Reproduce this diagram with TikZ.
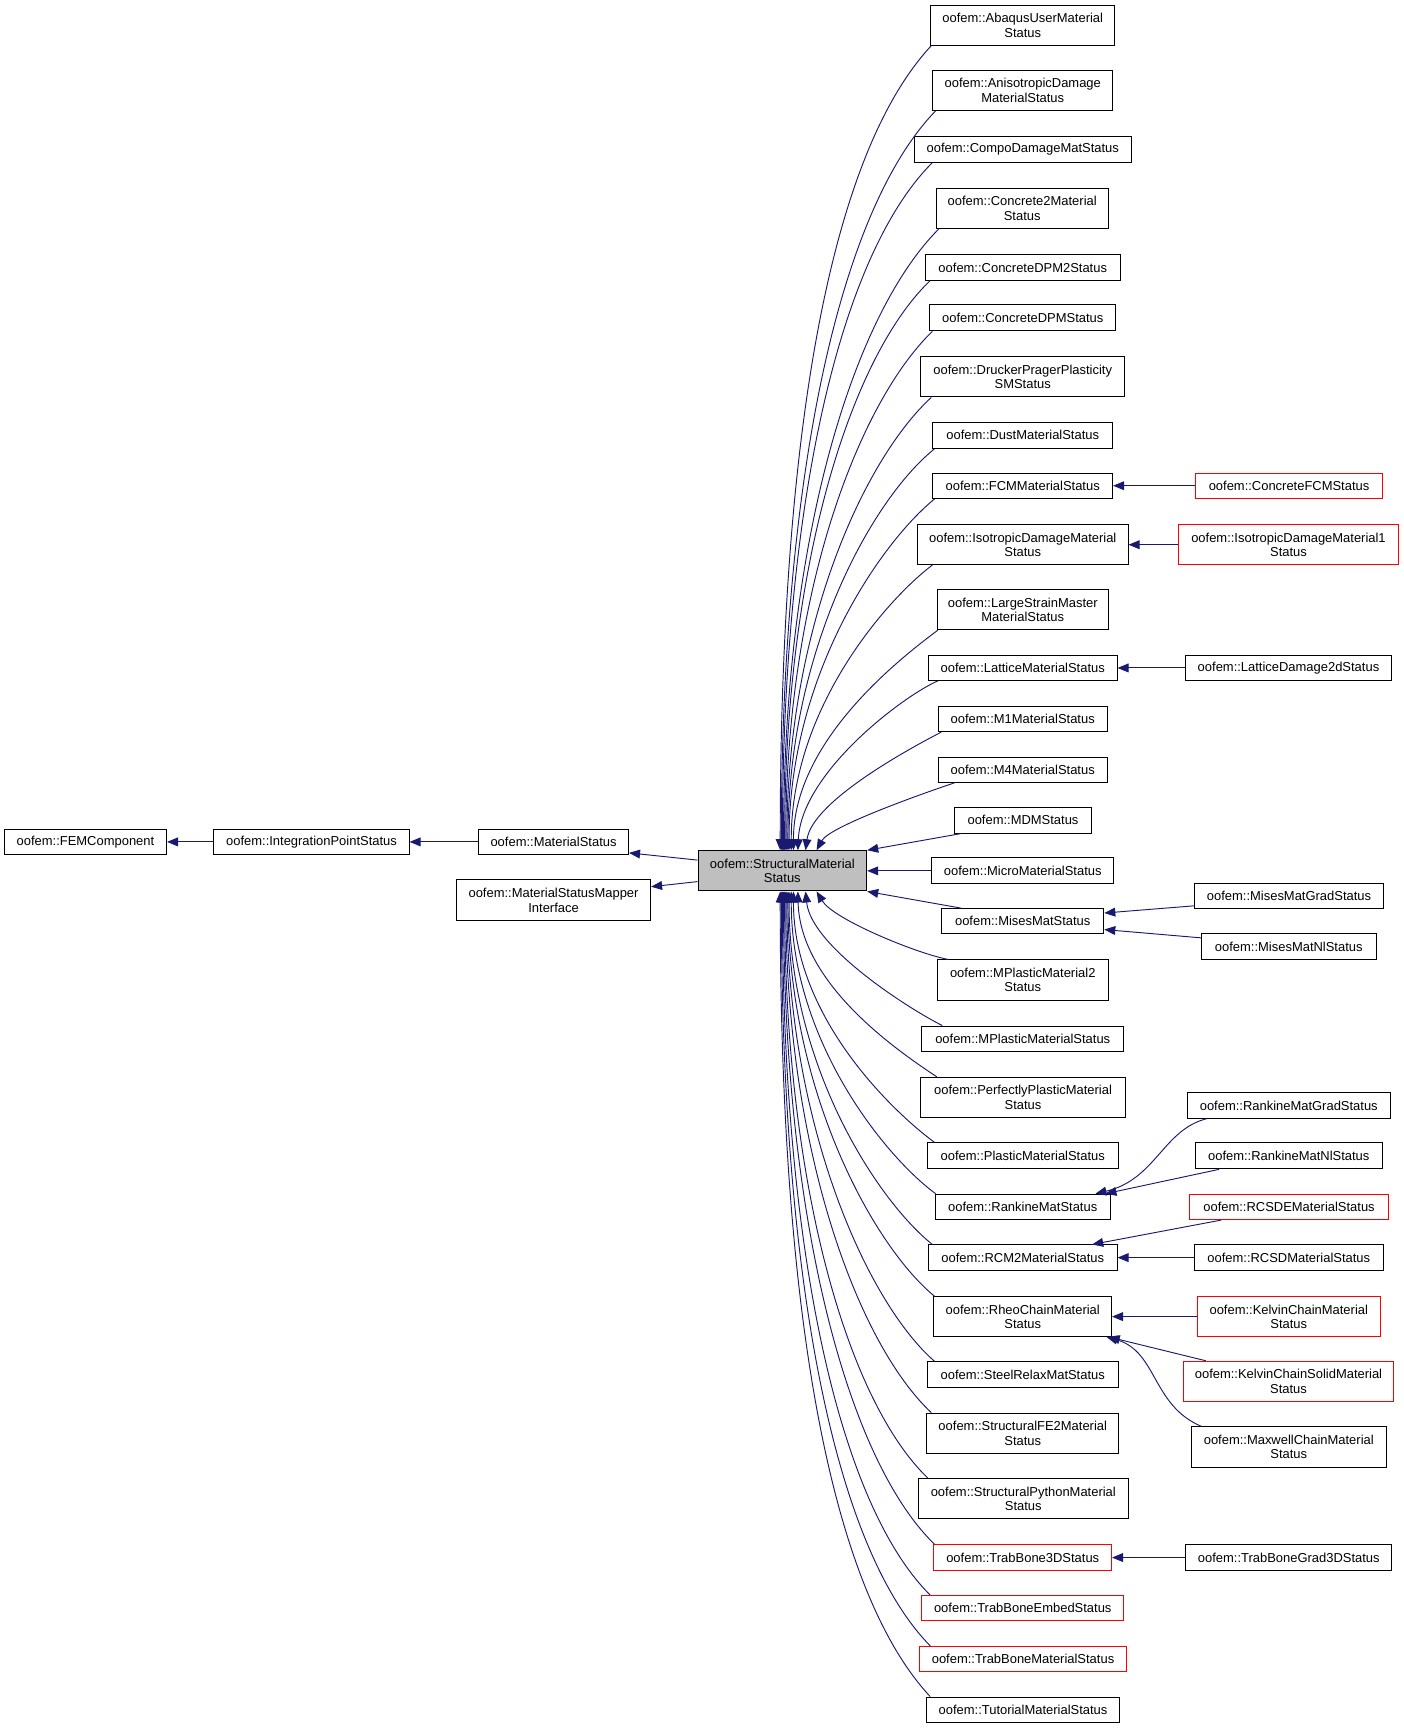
\documentclass[tikz,border=0pt]{standalone}
\usepackage{fontspec}
\setmainfont{Liberation Sans}
\usetikzlibrary{arrows.meta}
\definecolor{edgeblue}{RGB}{25,25,112}
\definecolor{nodegray}{RGB}{191,191,191}
\tikzset{
  box/.style={draw=black, line width=0.9pt, inner sep=0pt, align=center,
    font=\fontsize{11.75pt}{13pt}\selectfont, fill=white},
  redbox/.style={box, draw=red},
  edge/.style={draw=edgeblue, line width=0.85pt, -{Triangle[length=10pt,width=8pt]}},
}
\newcommand\bx[7][]{\node[box,#1,minimum width={(#5-#3)*1pt},minimum height={(#6-#4)*1pt}] (#2) at ({(#3+#5)/2},{(#4+#6)/2}) {#7};}
\begin{document}
\begin{tikzpicture}[x=1pt,y=-1pt]
\useasboundingbox[fill=white] (0,0) rectangle (1273,1568);
% left part
\bx{fem}{4}{752}{151}{775}{oofem::FEMComponent}
\bx{ips}{194}{752}{371}{775}{oofem::IntegrationPointStatus}
\bx{ms}{434}{752}{570}{775}{oofem::MaterialStatus}
\bx{mapper}{414}{798}{590}{835}{oofem::MaterialStatusMapper\\Interface}
\bx[fill=nodegray]{S}{633}{771.5}{786}{808}{oofem::StructuralMaterial\\Status}
% middle column
\bx{abaqus}{844}{5}{1011}{41}{oofem::AbaqusUserMaterial\\Status}
\bx{aniso}{846}{64}{1009}{100}{oofem::AnisotropicDamage\\MaterialStatus}
\bx{compo}{829}{124}{1026}{147}{oofem::CompoDamageMatStatus}
\bx{conc2}{849}{171}{1005}{207}{oofem::Concrete2Material\\Status}
\bx{dpm2}{839}{231}{1016}{254}{oofem::ConcreteDPM2Status}
\bx{dpm}{843}{276}{1012}{300}{oofem::ConcreteDPMStatus}
\bx{drucker}{835}{323}{1020}{360}{oofem::DruckerPragerPlasticity\\SMStatus}
\bx{dust}{846}{383}{1009}{406.5}{oofem::DustMaterialStatus}
\bx{fcm}{846}{429}{1009}{452}{oofem::FCMMaterialStatus}
\bx{iso}{832}{476}{1023}{512}{oofem::IsotropicDamageMaterial\\Status}
\bx{large}{850}{535}{1005}{571}{oofem::LargeStrainMaster\\MaterialStatus}
\bx{lattice}{842}{594.5}{1013}{617}{oofem::LatticeMaterialStatus}
\bx{mone}{851}{641}{1004}{663.5}{oofem::M1MaterialStatus}
\bx{mfour}{851}{687}{1004}{709.5}{oofem::M4MaterialStatus}
\bx{mdm}{866}{732}{989.5}{755.5}{oofem::MDMStatus}
\bx{micro}{845}{778}{1010}{801.5}{oofem::MicroMaterialStatus}
\bx{mises}{854}{824}{1001}{847}{oofem::MisesMatStatus}
\bx{mplastictwo}{850}{870.5}{1005}{907}{oofem::MPlasticMaterial2\\Status}
\bx{mplastic}{836}{930.5}{1019}{953.5}{oofem::MPlasticMaterialStatus}
\bx{perfect}{835}{977}{1020.5}{1013.5}{oofem::PerfectlyPlasticMaterial\\Status}
\bx{plastic}{841}{1036.5}{1014}{1060}{oofem::PlasticMaterialStatus}
\bx{rankine}{848}{1083}{1007}{1106}{oofem::RankineMatStatus}
\bx{rcm}{842}{1129}{1013}{1152}{oofem::RCM2MaterialStatus}
\bx{rheo}{847}{1176}{1008}{1212}{oofem::RheoChainMaterial\\Status}
\bx{steel}{841}{1235}{1014}{1258}{oofem::SteelRelaxMatStatus}
\bx{fetwo}{840.5}{1281.5}{1014.5}{1318}{oofem::StructuralFE2Material\\Status}
\bx{python}{833}{1341}{1023}{1377.5}{oofem::StructuralPythonMaterial\\Status}
\bx[redbox]{tbthree}{847}{1401}{1008}{1424}{oofem::TrabBone3DStatus}
\bx[redbox]{embed}{836}{1447}{1019}{1470}{oofem::TrabBoneEmbedStatus}
\bx[redbox]{tbmat}{834}{1493}{1021.5}{1516}{oofem::TrabBoneMaterialStatus}
\bx{tutorial}{840}{1539}{1015.5}{1562}{oofem::TutorialMaterialStatus}
% right column
\bx[redbox]{cfcm}{1084}{429}{1254}{452}{oofem::ConcreteFCMStatus}
\bx[redbox]{isoone}{1069}{476}{1268}{512}{oofem::IsotropicDamageMaterial1\\Status}
\bx{ldam}{1075}{594.5}{1262}{617}{oofem::LatticeDamage2dStatus}
\bx{misesgrad}{1083}{801}{1255}{824}{oofem::MisesMatGradStatus}
\bx{misesnl}{1089.5}{847}{1248}{870}{oofem::MisesMatNlStatus}
\bx{rankgrad}{1076.5}{991}{1261}{1014}{oofem::RankineMatGradStatus}
\bx{ranknl}{1084}{1036.5}{1253.5}{1060}{oofem::RankineMatNlStatus}
\bx[redbox]{rcsde}{1079}{1083}{1259}{1106}{oofem::RCSDEMaterialStatus}
\bx{rcsd}{1083}{1129}{1254.5}{1152}{oofem::RCSDMaterialStatus}
\bx[redbox]{kelvin}{1086}{1176}{1251.5}{1212}{oofem::KelvinChainMaterial\\Status}
\bx[redbox]{kelvinsolid}{1073}{1234.5}{1264}{1271}{oofem::KelvinChainSolidMaterial\\Status}
\bx{maxwell}{1080.5}{1294}{1257}{1330.5}{oofem::MaxwellChainMaterial\\Status}
\bx{tbgrad}{1075.5}{1401}{1262}{1424}{oofem::TrabBoneGrad3DStatus}
% left edges
\draw[edge] (ips.west) -- (fem.east);
\draw[edge] (ms.west) -- (ips.east);
\draw[edge] ([yshift=9.75pt]S.west) -- ([yshift=2pt]ms.south east);
\draw[edge] ([yshift=-9.75pt]S.west) -- ([yshift=-6.6pt]mapper.north east);
% upper edges
\draw[edge] ([xshift=1pt]abaqus.south west) .. controls +(-95,102) and +(0,-365) .. ([xshift=75pt]S.north west);
\draw[edge] ([xshift=3pt]aniso.south west) .. controls +(-89,92) and +(0,-335) .. ([xshift=76pt]S.north west);
\draw[edge] ([xshift=17pt]compo.south west) .. controls +(-85,85) and +(0,-312) .. ([xshift=77pt]S.north west);
\draw[edge] ([xshift=3pt]conc2.south west) .. controls +(-78,78) and +(0,-282) .. ([xshift=78pt]S.north west);
\draw[edge] ([xshift=5pt]dpm2.south west) .. controls +(-72,69) and +(0,-259) .. ([xshift=79pt]S.north west);
\draw[edge] ([xshift=3pt]dpm.south west) .. controls +(-66,64) and +(0,-236) .. ([xshift=80pt]S.north west);
\draw[edge] ([xshift=10pt]drucker.south west) .. controls +(-59,54) and +(0,-206) .. ([xshift=81pt]S.north west);
\draw[edge] ([xshift=2pt]dust.south west) .. controls +(-56,45) and +(0,-183) .. ([xshift=82pt]S.north west);
\draw[edge] ([xshift=2pt]fcm.south west) .. controls +(-48,39) and +(0,-160) .. ([xshift=83pt]S.north west);
\draw[edge] ([xshift=14pt]iso.south west) .. controls +(-40,30) and +(0,-130) .. ([xshift=85pt]S.north west);
\draw[edge] ([xshift=1pt]large.south west) .. controls +(-32,24) and +(0,-100) .. ([xshift=87pt]S.north west);
\draw[edge] ([xshift=9pt]lattice.south west) .. controls +(-32,14) and +(3,-70) .. ([xshift=91pt]S.north west);
\draw[edge] ([xshift=3pt]mone.south west) .. controls +(-25,13) and +(6,-45) .. ([xshift=98pt]S.north west);
\draw[edge] ([xshift=15pt]mfour.south west) .. controls +(-24,8) and +(12,-22) .. ([xshift=108pt]S.north west);
\draw[edge] ([xshift=6pt]mdm.south west) -- (S.north east);
\draw[edge] (micro.west) -- (S.east);
\draw[edge] ([xshift=18pt]mises.north west) -- (S.south east);
% lower edges
\draw[edge] ([xshift=10pt]mplastictwo.north west) .. controls +(-30,-6) and +(15,25) .. ([xshift=108pt]S.south west);
\draw[edge] ([xshift=19pt]mplastic.north west) .. controls +(-30,-15) and +(5,50) .. ([xshift=98pt]S.south west);
\draw[edge] ([xshift=15pt]perfect.north west) .. controls +(-33,-22) and +(2,85) .. ([xshift=91pt]S.south west);
\draw[edge] ([xshift=7pt]plastic.north west) .. controls +(-38,-28) and +(0,114) .. ([xshift=87pt]S.south west);
\draw[edge] ([xshift=1pt]rankine.north west) .. controls +(-44,-32) and +(0,137) .. ([xshift=85pt]S.south west);
\draw[edge] ([xshift=4pt]rcm.north west) .. controls +(-48,-38) and +(0,160) .. ([xshift=83pt]S.south west);
\draw[edge] ([xshift=1pt]rheo.north west) .. controls +(-54,-44) and +(0,183) .. ([xshift=82pt]S.south west);
\draw[edge] ([xshift=7pt]steel.north west) .. controls +(-60,-52) and +(0,213) .. ([xshift=81pt]S.south west);
\draw[edge] ([xshift=4.5pt]fetwo.north west) .. controls +(-66,-62) and +(0,236) .. ([xshift=80pt]S.south west);
\draw[edge] ([xshift=9pt]python.north west) .. controls +(-73,-70) and +(0,266) .. ([xshift=79pt]S.south west);
\draw[edge] ([xshift=1pt]tbthree.north west) .. controls +(-80,-78) and +(0,296) .. ([xshift=78pt]S.south west);
\draw[edge] ([xshift=8pt]embed.north west) .. controls +(-85,-85) and +(0,319) .. ([xshift=77pt]S.south west);
\draw[edge] ([xshift=10pt]tbmat.north west) .. controls +(-90,-92) and +(0,342) .. ([xshift=76pt]S.south west);
\draw[edge] ([xshift=4pt]tutorial.north west) .. controls +(-95,-102) and +(0,365) .. ([xshift=75pt]S.south west);
% right column edges
\draw[edge] (cfcm.west) -- (fcm.east);
\draw[edge] (isoone.west) -- (iso.east);
\draw[edge] (ldam.west) -- (lattice.east);
\draw[edge] ([yshift=-9pt]misesgrad.west) -- ([yshift=7.5pt]mises.east);
\draw[edge] ([yshift=8pt]misesnl.west) -- ([yshift=-7.5pt]mises.east);
\draw[edge] ([xshift=18.5pt]rankgrad.south west) .. controls +(-40,10) and +(55,-13) .. ([xshift=-14pt]rankine.north east);
\draw[edge] ([xshift=22pt]ranknl.south west) -- ([xshift=-5pt]rankine.north east);
\draw[edge] ([xshift=29pt]rcsde.south west) -- ([xshift=-23pt]rcm.north east);
\draw[edge] (rcsd.west) -- (rcm.east);
\draw[edge] (kelvin.west) -- (rheo.east);
\draw[edge] ([xshift=21pt]kelvinsolid.north west) -- ([xshift=-3pt]rheo.south east);
\draw[edge] ([xshift=9.5pt]maxwell.north west) .. controls +(-45,-19) and +(46,13) .. ([xshift=-5pt]rheo.south east);
\draw[edge] (tbgrad.west) -- (tbthree.east);
\end{tikzpicture}
\end{document}
